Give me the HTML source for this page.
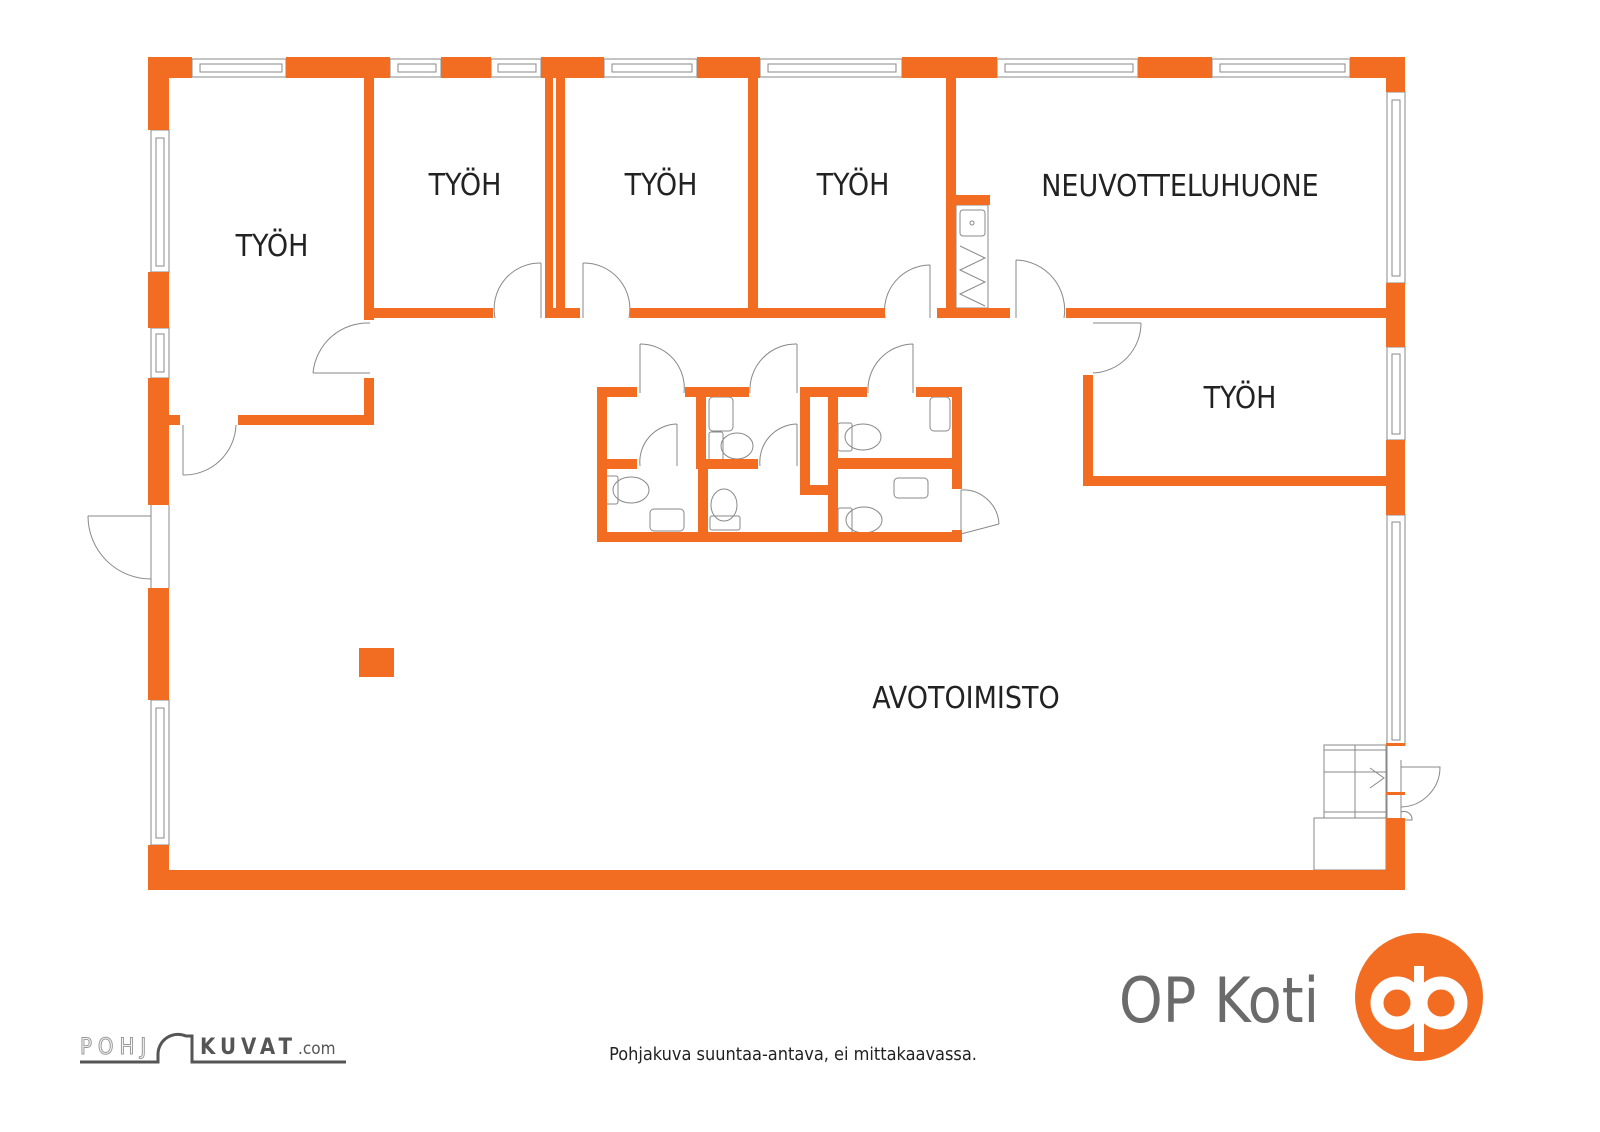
<!DOCTYPE html>
<html><head><meta charset="utf-8"><style>
html,body{margin:0;padding:0;background:#fff;}
svg{display:block}
text{font-family:"DejaVu Sans Condensed","Liberation Sans",sans-serif;}
</style></head><body>
<svg width="1600" height="1132" viewBox="0 0 1600 1132" xmlns="http://www.w3.org/2000/svg">
<g fill="none" stroke="#888" stroke-width="1">
<rect x="192" y="59" width="94" height="18"/><rect x="200" y="64" width="82" height="8"/>
<rect x="390" y="59" width="51" height="18"/><rect x="398" y="64" width="38" height="8"/>
<rect x="491" y="59" width="50" height="18"/><rect x="498" y="64" width="38" height="8"/>
<rect x="604" y="59" width="93" height="18"/><rect x="612" y="64" width="80" height="8"/>
<rect x="760" y="59" width="142" height="18"/><rect x="768" y="64" width="128" height="8"/>
<rect x="997" y="59" width="141" height="18"/><rect x="1005" y="64" width="128" height="8"/>
<rect x="1212" y="59" width="138" height="18"/><rect x="1220" y="64" width="125" height="8"/>
<rect x="151" y="130" width="18" height="142"/><rect x="156" y="138" width="8" height="128"/>
<rect x="151" y="328" width="18" height="50"/><rect x="156" y="334" width="8" height="38"/>
<rect x="151" y="700" width="18" height="145"/><rect x="156" y="708" width="8" height="130"/>
<line x1="151" y1="505" x2="151" y2="588"/><line x1="169" y1="505" x2="169" y2="588"/>
<rect x="1387" y="92" width="18" height="191"/><rect x="1392" y="100" width="8" height="176"/>
<rect x="1387" y="347" width="18" height="93"/><rect x="1392" y="354" width="8" height="80"/>
<rect x="1387" y="515" width="18" height="230"/><rect x="1392" y="522" width="8" height="218"/>
<line x1="1387" y1="745" x2="1387" y2="818"/><line x1="1401" y1="760" x2="1401" y2="818"/>
<rect x="1324" y="745" width="62" height="73"/><line x1="1355" y1="745" x2="1355" y2="818"/><line x1="1324" y1="772" x2="1386" y2="772"/><line x1="1324" y1="750" x2="1386" y2="750"/><line x1="1324" y1="812" x2="1386" y2="812"/>
<polyline points="1370,768 1384,778 1370,788"/>
<rect x="1314" y="818" width="72" height="52"/>
<path d="M1401 767 L1440 767 A40 40 0 0 1 1401 807"/>
<path d="M1401 820 L1412 820 A8 8 0 0 0 1401 812"/>
<path d="M88 516 L151 516 M88 516 A63 63 0 0 0 151 579"/>
<path d="M183 425 L183 475 M183 475 A52 52 0 0 0 236 425"/>
<path d="M313 373 L370 373 M370 323 A55 55 0 0 0 313 373"/>
<path d="M541 263 L541 318 M495 318 A46 46 0 0 1 541 263"/>
<path d="M583 263 L583 318 M583 263 A46 46 0 0 1 629 318"/>
<path d="M930 265 L930 318 M885 318 A46 46 0 0 1 930 265"/>
<path d="M1016 260 L1016 318 M1016 260 A50 50 0 0 1 1064 318"/>
<path d="M1093 323 L1141 323 M1141 323 A50 50 0 0 1 1093 373"/>
<path d="M640 344 L640 393 M640 344 A44 44 0 0 1 684 393"/>
<path d="M797 344 L797 393 M750 393 A46 46 0 0 1 797 344"/>
<path d="M913 344 L913 393 M868 393 A46 46 0 0 1 913 344"/>
<path d="M677 424 L677 466 M640 466 A38 38 0 0 1 677 424"/>
<path d="M797 424 L797 466 M760 466 A38 38 0 0 1 797 424"/>
<path d="M961 490 L961 534 L999 524 M961 490 A36 36 0 0 1 999 524"/>
<rect x="956" y="205" width="32" height="103"/><rect x="960" y="210" width="25" height="26" rx="3"/><circle cx="972" cy="223" r="2"/>
<polyline points="960,246 985,258 960,270 985,282 960,294 985,306"/>
<rect x="709" y="397" width="24" height="34" rx="4"/><rect x="709" y="432" width="14" height="28" rx="2"/><ellipse cx="737" cy="446" rx="16" ry="13"/>
<rect x="930" y="397" width="20" height="34" rx="4"/><rect x="838" y="423" width="14" height="28" rx="2"/><ellipse cx="863" cy="437" rx="18" ry="13"/>
<rect x="604" y="476" width="14" height="28" rx="2"/><ellipse cx="631" cy="490" rx="18" ry="13"/><rect x="650" y="509" width="34" height="22" rx="4"/>
<ellipse cx="724" cy="505" rx="13" ry="16"/><rect x="710" y="516" width="30" height="14" rx="2"/>
<rect x="894" y="478" width="34" height="20" rx="4"/><rect x="838" y="508" width="14" height="28" rx="2"/><ellipse cx="864" cy="520" rx="18" ry="13"/>
</g>
<g fill="#F26C22">
<rect x="148" y="57" width="44" height="21"/><rect x="286" y="57" width="104" height="21"/><rect x="441" y="57" width="50" height="21"/><rect x="541" y="57" width="63" height="21"/><rect x="697" y="57" width="63" height="21"/><rect x="902" y="57" width="95" height="21"/><rect x="1138" y="57" width="74" height="21"/><rect x="1350" y="57" width="55" height="21"/>
<rect x="148" y="57" width="21" height="73"/><rect x="148" y="272" width="21" height="56"/><rect x="148" y="378" width="21" height="127"/><rect x="148" y="588" width="21" height="112"/><rect x="148" y="845" width="21" height="45"/>
<rect x="148" y="870" width="1257" height="20"/>
<rect x="1386" y="57" width="19" height="35"/><rect x="1386" y="283" width="19" height="64"/><rect x="1386" y="440" width="19" height="75"/><rect x="1386" y="818" width="19" height="72"/>
<rect x="1386" y="743" width="19" height="3"/><rect x="1386" y="792" width="19" height="3"/>
<rect x="364" y="77" width="10" height="243"/><rect x="364" y="378" width="10" height="47"/>
<rect x="166" y="415" width="14" height="10"/><rect x="238" y="415" width="136" height="10"/>
<rect x="364" y="308" width="129" height="10"/><rect x="545" y="308" width="35" height="10"/><rect x="630" y="308" width="255" height="10"/><rect x="937" y="308" width="73" height="10"/><rect x="1066" y="308" width="320" height="10"/>
<rect x="545" y="77" width="8" height="241"/><rect x="556" y="77" width="9" height="241"/><rect x="748" y="77" width="10" height="241"/><rect x="946" y="77" width="10" height="241"/>
<rect x="956" y="195" width="34" height="10"/>
<rect x="1083" y="375" width="10" height="111"/><rect x="1083" y="476" width="303" height="10"/>
<rect x="359" y="648" width="35" height="29"/>
<rect x="597" y="387" width="10" height="155"/><rect x="597" y="532" width="365" height="10"/><rect x="952" y="387" width="10" height="102"/><rect x="952" y="530" width="10" height="12"/>
<rect x="597" y="387" width="40" height="10"/><rect x="685" y="387" width="64" height="10"/><rect x="800" y="387" width="67" height="10"/><rect x="916" y="387" width="46" height="10"/>
<rect x="597" y="459" width="40" height="10"/><rect x="698" y="459" width="10" height="83"/><rect x="696" y="387" width="10" height="82"/><rect x="696" y="459" width="62" height="10"/>
<rect x="800" y="387" width="10" height="108"/><rect x="800" y="485" width="33" height="10"/><rect x="828" y="387" width="10" height="155"/><rect x="828" y="458" width="134" height="11"/>
</g>
<g fill="#222" font-size="30" text-anchor="middle">
<text x="272" y="256">TYÖH</text><text x="465" y="195">TYÖH</text><text x="661" y="195">TYÖH</text><text x="853" y="195">TYÖH</text>
<text x="1180" y="196">NEUVOTTELUHUONE</text><text x="1240" y="408">TYÖH</text><text x="966" y="708">AVOTOIMISTO</text>
</g>
<text x="793" y="1060" font-size="18" fill="#222" text-anchor="middle">Pohjakuva suuntaa-antava, ei mittakaavassa.</text>
<text x="1219" y="1022" font-size="62" fill="#6b6b6b" text-anchor="middle" style="font-family:'DejaVu Sans Condensed','Liberation Sans',sans-serif">OP Koti</text>
<circle cx="1419" cy="997" r="64" fill="#F26C22"/>
<g fill="none" stroke="#fff" stroke-width="13"><circle cx="1397" cy="1003" r="20"/><circle cx="1441" cy="1003" r="20"/></g>
<rect x="1414" y="966" width="10" height="86" fill="#fff"/>
<g font-family="Liberation Sans,sans-serif">
<text x="80" y="1054" font-size="22" fill="none" stroke="#999" stroke-width="1" letter-spacing="6">POHJ</text>
<text x="200" y="1054" font-size="22" fill="#555" font-weight="bold" letter-spacing="5">KUVAT</text>
<text x="298" y="1054" font-size="17" fill="#555">.com</text>
</g>
<path d="M80 1062 L158 1062 L158 1054 A20 20 0 0 1 186 1036 L192 1036 L192 1062 L346 1062" fill="none" stroke="#555" stroke-width="3"/>
</svg>
</body></html>
